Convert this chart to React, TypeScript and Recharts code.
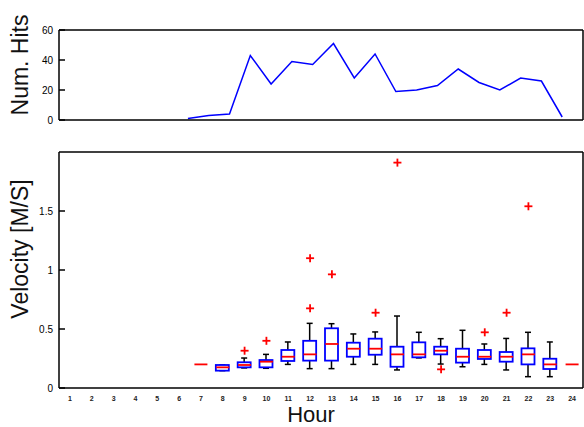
import React from "react"
import { ComposedChart, LineChart, Line, Bar, Scatter, XAxis, YAxis } from "recharts"

// hits per hour (top panel)
const hitHours = [6, 7, 8, 9, 10, 11, 12, 13, 14, 15, 16, 17, 18, 19, 20, 21, 22, 23, 24]
const hitCounts = [1, 3, 4, 43, 24, 39, 37, 51, 28, 44, 19, 20, 23, 34, 25, 20, 28, 26, 2]

// velocity box plot per hour (bottom panel)
const hours = ["1", "2", "3", "4", "5", "6", "7", "8", "9", "10", "11", "12", "13", "14", "15", "16", "17", "18", "19", "20", "21", "22", "23", "24"]
const N = null
const whiskerLow = [N, N, N, N, N, N, N, 0.147, 0.17, 0.167, 0.2, 0.164, 0.164, 0.2, 0.2, 0.153, 0.255, 0.203, 0.18, 0.2, 0.153, 0.096, 0.096, N]
const quart1 = [N, N, N, N, N, N, N, 0.147, 0.175, 0.175, 0.229, 0.232, 0.232, 0.265, 0.282, 0.18, 0.26, 0.285, 0.215, 0.246, 0.223, 0.2, 0.161, N]
const medians = [N, N, N, N, N, N, 0.2, 0.175, 0.195, 0.223, 0.265, 0.285, 0.373, 0.333, 0.333, 0.285, 0.285, 0.316, 0.265, 0.265, 0.265, 0.285, 0.2, 0.2]
const quart3 = [N, N, N, N, N, N, N, 0.195, 0.218, 0.237, 0.322, 0.4, 0.506, 0.384, 0.418, 0.35, 0.387, 0.35, 0.333, 0.322, 0.305, 0.336, 0.248, N]
const whiskerHigh = [N, N, N, N, N, N, N, 0.195, 0.254, 0.285, 0.39, 0.548, 0.545, 0.458, 0.475, 0.61, 0.472, 0.418, 0.489, 0.373, 0.42, 0.472, 0.39, N]
const outlierA = [N, N, N, N, N, N, N, N, 0.316, 0.4, N, 0.675, 0.963, N, 0.638, 1.91, N, 0.158, N, 0.472, 0.638, 1.54, N, N]
const outlierB = [N, N, N, N, N, N, N, N, N, N, N, 1.1, N, N, N, N, N, N, N, N, N, N, N, N]

const hitTicks = [0, 20, 40, 60]
const velTicks = [0, 0.5, 1, 1.5]

const hitData = hitHours.map((h, i) => ({ h, hits: hitCounts[i] }))
const boxData = hours.map((hour, i) => ({
  hour,
  lo: whiskerLow[i],
  q1: quart1[i],
  med: medians[i],
  q3: quart3[i],
  hi: whiskerHigh[i],
  out1: outlierA[i],
  out2: outlierB[i],
  range: whiskerLow[i] == null ? null : [whiskerLow[i], whiskerHigh[i]],
}))

const FONT = "'Liberation Sans', Arial, sans-serif"
const INK = "#000"

const LeftTick = (props: any) => {
  const { x, y, payload } = props
  return (
    <g>
      <line x1={x + 6} x2={x + 12} y1={y} y2={y} stroke={INK} strokeWidth={1.5} />
      <text x={x} y={y} dy={4} textAnchor="end" fontSize={10} fontFamily={FONT} fill={INK}>
        {payload.value}
      </text>
    </g>
  )
}

const RightTick = (props: any) => {
  const { x, y } = props
  return <line x1={x - 6} x2={x} y1={y} y2={y} stroke={INK} strokeWidth={1.5} />
}

const HourTick = (props: any) => {
  const { x, y, payload } = props
  return (
    <text x={x} y={y + 5} textAnchor="middle" fontSize={7} fontWeight="bold" fontFamily={FONT} fill="#222">
      {payload.value}
    </text>
  )
}

const BoxShape = (props: any) => {
  const { x, y, width, height, payload } = props
  if (payload == null || payload.lo == null) return <g />
  const { lo, q1, q3, hi } = payload
  const span = hi - lo
  const py = (v: number) => (span > 0 ? y + ((hi - v) / span) * height : y)
  const cx = x + width / 2
  const cap = 3
  return (
    <g>
      <line x1={cx} x2={cx} y1={py(hi)} y2={py(q3)} stroke={INK} strokeWidth={1.5} />
      <line x1={cx} x2={cx} y1={py(q1)} y2={py(lo)} stroke={INK} strokeWidth={1.5} />
      <line x1={cx - cap} x2={cx + cap} y1={py(hi)} y2={py(hi)} stroke={INK} strokeWidth={1.5} />
      <line x1={cx - cap} x2={cx + cap} y1={py(lo)} y2={py(lo)} stroke={INK} strokeWidth={1.5} />
      <rect x={x} y={py(q3)} width={width} height={Math.max(py(q1) - py(q3), 1)} fill="#fff" stroke="#0000ff" strokeWidth={1.8} />
    </g>
  )
}

const MedianShape = (props: any) => {
  const { cx, cy } = props
  if (cx == null || cy == null || isNaN(cy)) return <g />
  return <line x1={cx - 6.5} x2={cx + 6.5} y1={cy} y2={cy} stroke="#ff0000" strokeWidth={1.8} />
}

const PlusShape = (props: any) => {
  const { cx, cy } = props
  if (cx == null || cy == null || isNaN(cy)) return <g />
  return (
    <g stroke="#ff0000" strokeWidth={1.8}>
      <line x1={cx - 4} x2={cx + 4} y1={cy} y2={cy} />
      <line x1={cx} x2={cx} y1={cy - 4} y2={cy + 4} />
    </g>
  )
}

const axisLine = { stroke: INK, strokeWidth: 1.5 }

const Title = ({ text, x, y, size, rotate }: { text: string; x: number; y: number; size: number; rotate?: boolean }) => (
  <div
    style={{
      position: "absolute",
      left: x,
      top: y,
      transform: `translate(-50%, -50%)${rotate ? " rotate(-90deg)" : ""}`,
      fontFamily: FONT,
      fontSize: size,
      lineHeight: 1,
      whiteSpace: "nowrap",
      color: "#111",
    }}
  >
    {text}
  </div>
)

export default function App() {
  return (
    <div style={{ position: "absolute", left: 0, top: 0, width: 584, height: 427, background: "#fff", overflow: "hidden" }}>
      <div style={{ position: "absolute", left: 0, top: 0 }}>
        <LineChart width={584} height={130} data={hitData} margin={{ top: 29, right: 0, bottom: 9, left: 0 }}>
          <XAxis dataKey="h" type="number" domain={[-0.2, 25]} tick={false} tickLine={false} height={1} axisLine={axisLine} />
          <XAxis xAxisId="top" orientation="top" type="number" domain={[-0.2, 25]} tick={false} tickLine={false} height={1} axisLine={axisLine} />
          <YAxis domain={[0, 60]} ticks={hitTicks} width={59} tickSize={0} tickMargin={6} tickLine={false} tick={<LeftTick />} axisLine={axisLine} />
          <YAxis yAxisId="right" orientation="right" domain={[0, 60]} ticks={[20, 40]} width={1} tickSize={0} tickMargin={0} tickLine={false} tick={<RightTick />} axisLine={axisLine} />
          <Line dataKey="hits" type="linear" stroke="#0000ff" strokeWidth={1.5} dot={false} isAnimationActive={false} />
        </LineChart>
      </div>
      <div style={{ position: "absolute", left: 0, top: 140 }}>
        <ComposedChart width={584} height={287} data={boxData} margin={{ top: 11, right: 0, bottom: 0, left: 0 }} barSize={13}>
          <XAxis dataKey="hour" height={39} tickSize={0} tickMargin={8} tickLine={false} tick={<HourTick />} axisLine={axisLine} interval={0} />
          <XAxis xAxisId="top" dataKey="hour" orientation="top" tick={false} tickLine={false} height={1} axisLine={axisLine} />
          <YAxis domain={[0, 2]} ticks={velTicks} width={59} tickSize={0} tickMargin={6} tickLine={false} tick={<LeftTick />} axisLine={axisLine} />
          <YAxis yAxisId="right" orientation="right" domain={[0, 2]} ticks={[0.5, 1, 1.5]} width={1} tickSize={0} tickMargin={0} tickLine={false} tick={<RightTick />} axisLine={axisLine} />
          <Bar dataKey="range" shape={<BoxShape />} isAnimationActive={false} />
          <Scatter dataKey="med" shape={<MedianShape />} isAnimationActive={false} />
          <Scatter dataKey="out1" shape={<PlusShape />} isAnimationActive={false} />
          <Scatter dataKey="out2" shape={<PlusShape />} isAnimationActive={false} />
        </ComposedChart>
      </div>
      <Title text="Num. Hits" x={20} y={65} size={23} rotate />
      <Title text="Velocity [M/S]" x={20} y={249} size={23} rotate />
      <Title text="Hour" x={311} y={415} size={22} />
    </div>
  )
}
